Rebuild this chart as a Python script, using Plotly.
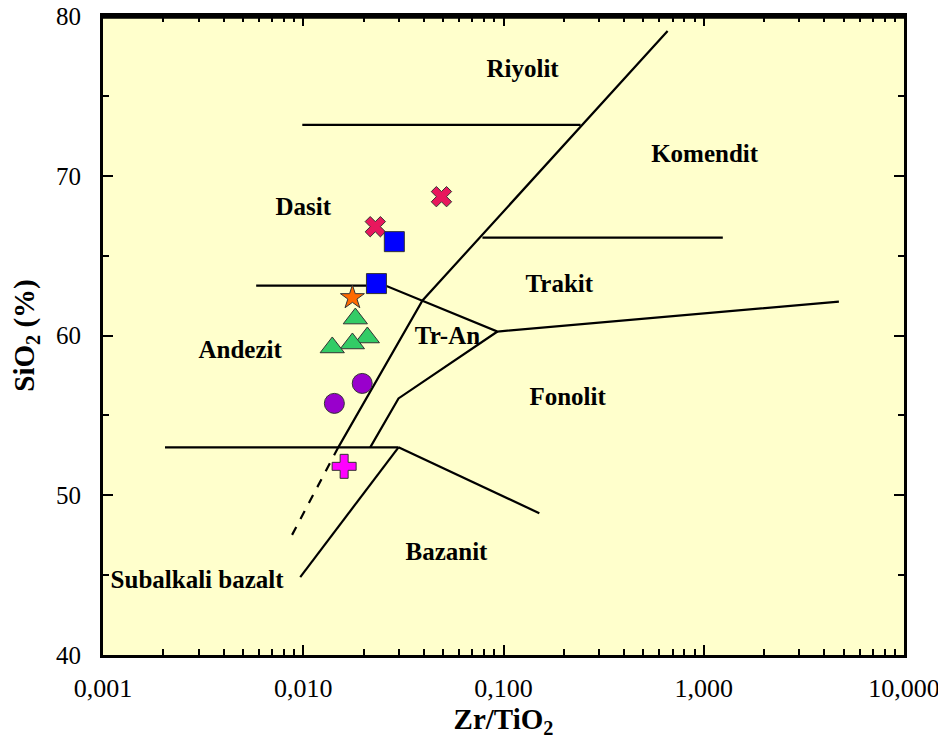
import plotly.graph_objects as go

# ---- data ----
# boundary lines of the Zr/TiO2 - SiO2 classification diagram
riyolit_dasit_x = [0.00989, 0.2427]
riyolit_dasit_y = [73.19, 73.19]

main_diag_x = [0.66, 0.0394, 0.01496]
main_diag_y = [79.06, 62.19, 53.0]

dashed_ext_x = [0.01496, 0.00841]
dashed_ext_y = [53.0, 47.06]

dasit_andezit_x = [0.00582, 0.0257, 0.0933, 4.73]
dasit_andezit_y = [63.125, 63.125, 60.25, 62.125]

komendit_trakit_x = [0.0785, 1.245]
komendit_trakit_y = [66.125, 66.125]

tran_fonolit_x = [0.0933, 0.0299, 0.0216]
tran_fonolit_y = [60.25, 56.06, 53.0]

andezit_base_x = [0.00204, 0.0299]
andezit_base_y = [53.0, 53.0]

bazanit_x = [0.0299, 0.151]
bazanit_y = [53.0, 48.875]

subalkali_x = [0.00966, 0.0299]
subalkali_y = [44.875, 53.0]

# samples
cross_x_x = [0.0229, 0.049]
cross_x_y = [66.81, 68.69]

square_x = [0.0285, 0.0232]
square_y = [65.875, 63.25]

star_x = [0.0176]
star_y = [62.375]

triangle_x = [0.0182, 0.0209, 0.0176, 0.01396]
triangle_y = [61.06, 59.875, 59.5, 59.25]

circle_x = [0.0197, 0.0143]
circle_y = [57.0, 55.75]

plus_x = [0.016]
plus_y = [51.81]

# field labels
label_text = ["Riyolit", "Komendit", "Dasit", "Trakit", "Tr-An", "Andezit",
              "Fonolit", "Bazanit", "Subalkali bazalt"]
label_x = [0.1245, 1.01, 0.01, 0.19, 0.0525, 0.00484, 0.209, 0.0519, 0.00295]
label_y = [76.6, 71.25, 67.94, 63.125, 59.875, 59.0, 56.06, 46.31, 44.56]

x_tickvals = [0.001, 0.01, 0.1, 1, 10]
x_ticktext = ["0,001", "0,010", "0,100", "1,000", "10,000"]
y_tickvals = [40, 50, 60, 70, 80]

FONT = "Liberation Serif"

fig = go.Figure()

line_style = dict(color="black", width=2.2)
for xs, ys in [(riyolit_dasit_x, riyolit_dasit_y), (main_diag_x, main_diag_y),
               (dasit_andezit_x, dasit_andezit_y), (komendit_trakit_x, komendit_trakit_y),
               (tran_fonolit_x, tran_fonolit_y), (andezit_base_x, andezit_base_y),
               (bazanit_x, bazanit_y), (subalkali_x, subalkali_y)]:
    fig.add_trace(go.Scatter(x=xs, y=ys, mode="lines", line=line_style,
                             showlegend=False, hoverinfo="skip"))
fig.add_trace(go.Scatter(x=dashed_ext_x, y=dashed_ext_y, mode="lines",
                         line=dict(color="black", width=2.2, dash="dash"),
                         showlegend=False, hoverinfo="skip"))

outline = dict(color="#333333", width=1)
fig.add_trace(go.Scatter(x=cross_x_x, y=cross_x_y, mode="markers",
                         marker=dict(symbol="x", size=18, color="#E8175D", line=outline),
                         showlegend=False))
fig.add_trace(go.Scatter(x=square_x, y=square_y, mode="markers",
                         marker=dict(symbol="square", size=20, color="#0000FF", line=outline),
                         showlegend=False))
fig.add_trace(go.Scatter(x=star_x, y=star_y, mode="markers",
                         marker=dict(symbol="star", size=18, color="#FF6A00", line=outline),
                         showlegend=False))
fig.add_trace(go.Scatter(x=triangle_x, y=triangle_y, mode="markers",
                         marker=dict(symbol="triangle-up", size=21, color="#33CC66", line=outline),
                         showlegend=False))
fig.add_trace(go.Scatter(x=circle_x, y=circle_y, mode="markers",
                         marker=dict(symbol="circle", size=20, color="#9900CC", line=outline),
                         showlegend=False))
fig.add_trace(go.Scatter(x=plus_x, y=plus_y, mode="markers",
                         marker=dict(symbol="cross", size=20, color="#FF00FF", line=outline),
                         showlegend=False))

fig.add_trace(go.Scatter(x=label_x, y=label_y, mode="text", text=label_text,
                         textfont=dict(family=FONT, size=25, color="black", weight="bold"),
                         textposition="middle center", showlegend=False, hoverinfo="skip"))

fig.update_layout(
    width=930, height=731,
    margin=dict(l=95, r=34, t=8, b=84),
    paper_bgcolor="white",
    plot_bgcolor="#FFFFCC",
    font=dict(family=FONT, color="black"),
    showlegend=False,
)
# top edge of the frame around the plotting area
fig.add_shape(type="line", xref="paper", yref="paper", x0=0, y0=0.998, x1=1, y1=0.998,
              line=dict(color="black", width=3), layer="above")
fig.update_xaxes(
    type="log", range=[-3, 1], automargin=False,
    tickmode="array", tickvals=x_tickvals, ticktext=x_ticktext,
    tickfont=dict(family=FONT, size=26), ticklabeloverflow="allow",
    ticks="inside", ticklen=10, tickwidth=2, tickcolor="black",
    minor=dict(tickmode="array",
               tickvals=[m * 10 ** e for e in range(-3, 1) for m in range(2, 10)],
               ticks="inside", ticklen=6, tickwidth=2, tickcolor="black", showgrid=False),
    showline=True, linewidth=3, linecolor="black", mirror="allticks",
    showgrid=False, zeroline=False,
    ticklabelstandoff=8,
    title=dict(text="<b>Zr/TiO<sub>2</sub></b>", font=dict(family=FONT, size=29), standoff=2),
)
fig.update_yaxes(
    range=[40, 80], automargin=False,
    tickmode="array", tickvals=y_tickvals,
    tickfont=dict(family=FONT, size=25), ticklabeloverflow="allow",
    ticks="inside", ticklen=10, tickwidth=2, tickcolor="black",
    minor=dict(tickmode="array", tickvals=[45, 55, 65, 75],
               ticks="inside", ticklen=6, tickwidth=2, tickcolor="black", showgrid=False),
    showline=True, linewidth=3, linecolor="black", mirror="allticks",
    showgrid=False, zeroline=False,
    ticklabelstandoff=14,
    title=dict(text="<b>SiO<sub>2</sub> (%)</b>", font=dict(family=FONT, size=29), standoff=23),
)

fig.write_html("out.html")
